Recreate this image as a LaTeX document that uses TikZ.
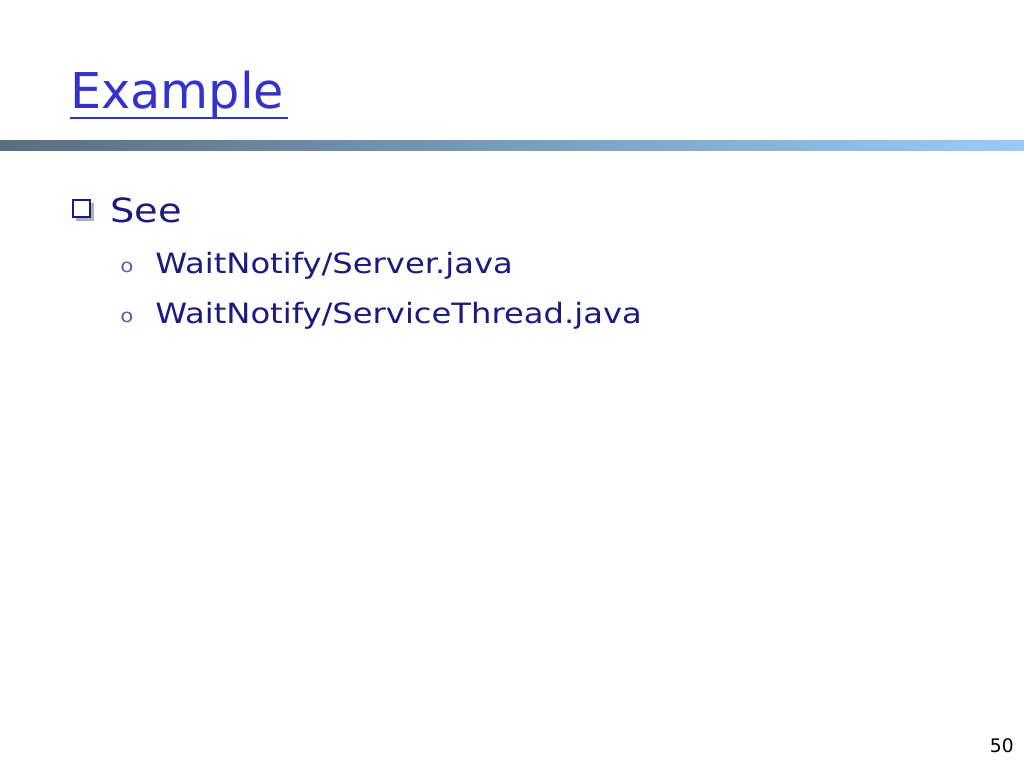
\documentclass[tikz,border=0pt]{standalone}
\usepackage{fontspec}
\setmainfont{DejaVu Sans}
\definecolor{titleblue}{HTML}{3333CC}
\definecolor{textblue}{HTML}{1A1A80}
\definecolor{barL}{HTML}{5A6E7E}
\definecolor{barR}{HTML}{9ACBF8}
\begin{document}
\begin{tikzpicture}[x=0.75pt,y=-0.75pt,
  txt/.style={anchor=base west,inner sep=0pt,text=textblue,xscale=1.15}]
\useasboundingbox[fill=white] (0,0) rectangle (1024,768);
\shade[left color=barL,right color=barR] (0,140) rectangle (1024,150);
\node[anchor=base west,inner sep=0pt,text=titleblue,font=\fontsize{37}{44}\selectfont] (title) at (70,108) {Example};
\draw[titleblue,line width=1.2pt] (title.base west)++(0,10) -- ++(218,0);
\fill[gray!60] (76,203) rectangle (94,221);
\draw[textblue,line width=1.2pt,fill=white] (73,200) rectangle (90,217);
\node[txt,font=\fontsize{25}{30}\selectfont] (see) at (110,222) {See};
\node[txt,text=textblue!70,font=\fontsize{14}{16}\selectfont] (b1) at (120,272) {o};
\node[txt,font=\fontsize{21}{25}\selectfont] (i1) at (155,273) {WaitNotify/Server.java};
\node[txt,text=textblue!70,font=\fontsize{14}{16}\selectfont] (b2) at (120,322) {o};
\node[txt,font=\fontsize{21}{25}\selectfont] (i2) at (155,323) {WaitNotify/ServiceThread.java};
\node[anchor=base east,inner sep=0pt,font=\fontsize{14}{16}\selectfont] (num) at (1014,752) {50};
\end{tikzpicture}
\end{document}
